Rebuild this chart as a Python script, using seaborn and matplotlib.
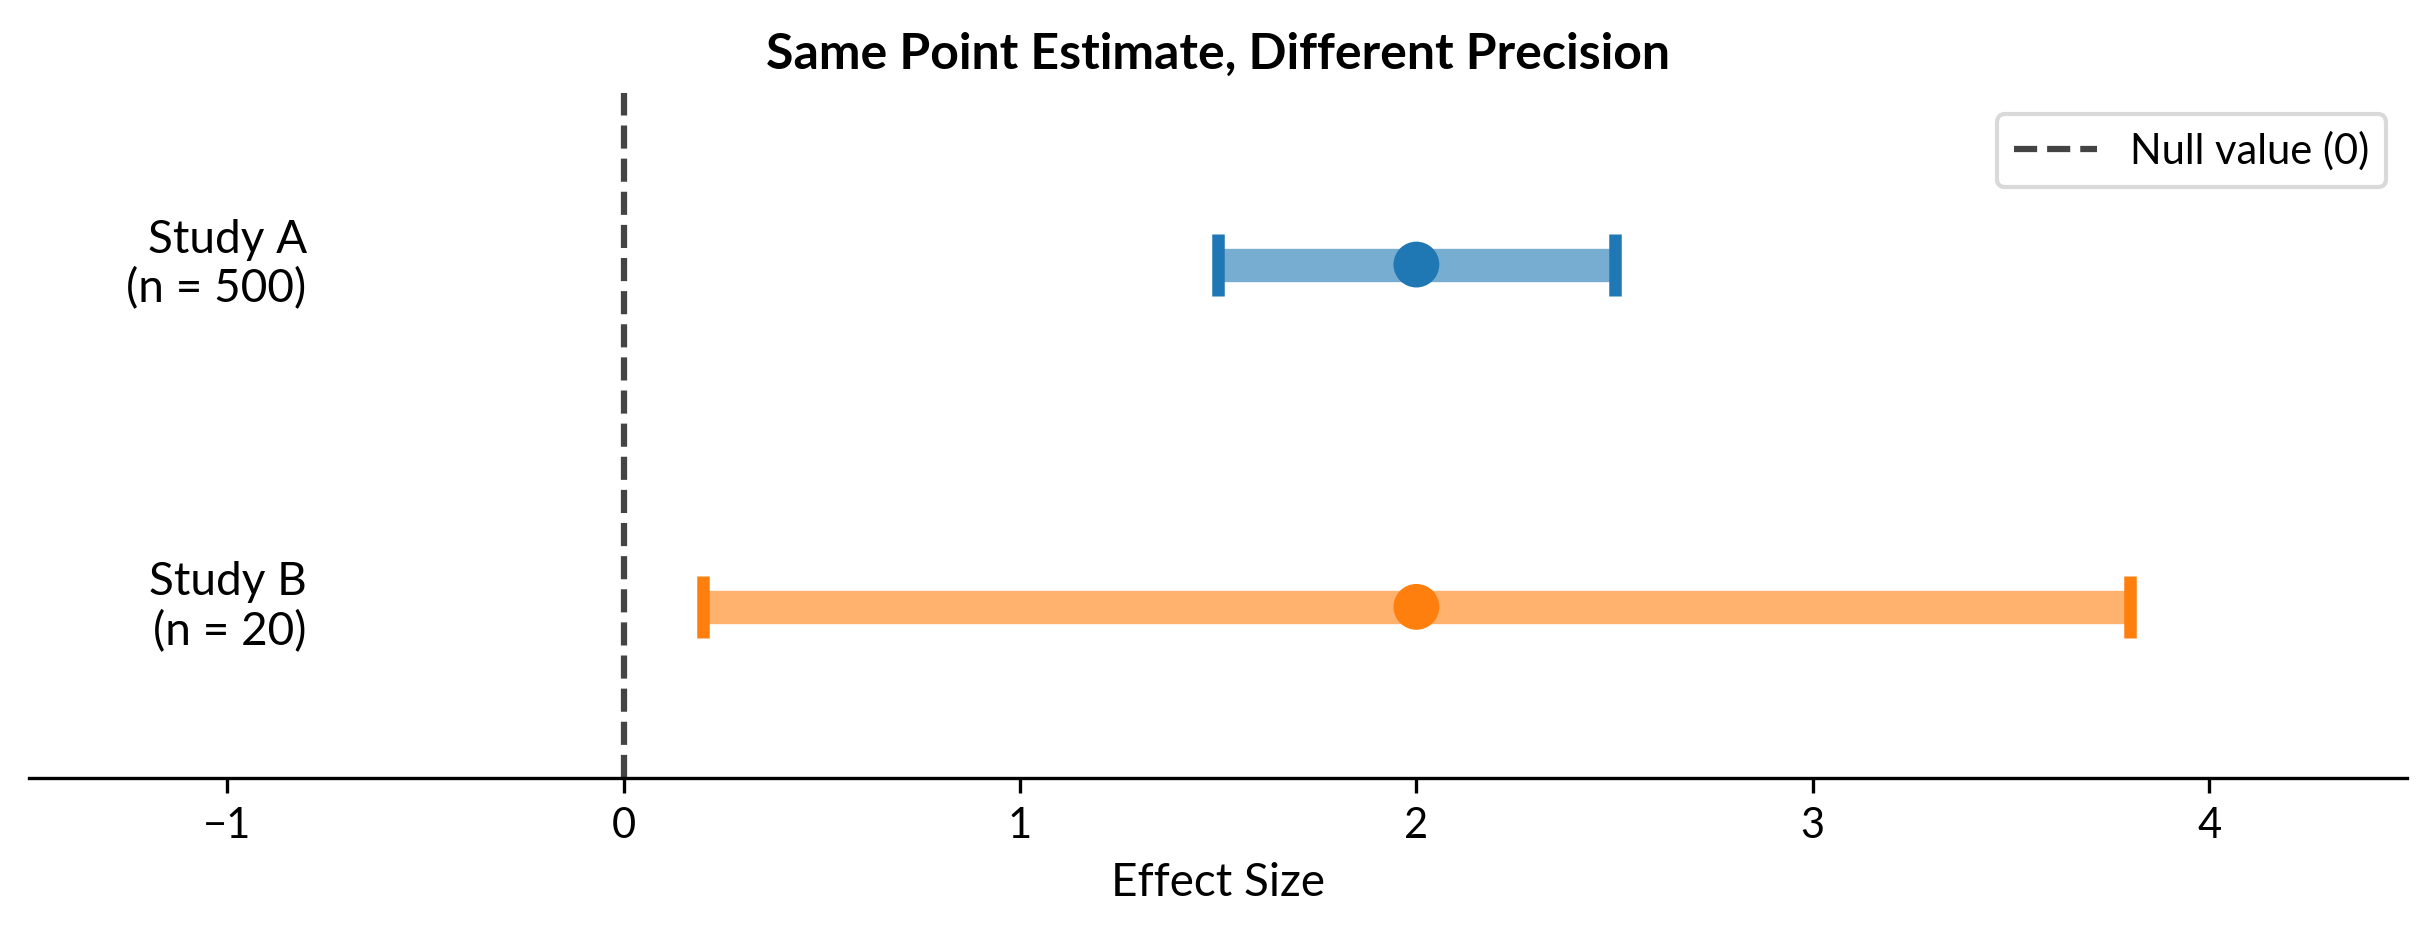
import matplotlib
matplotlib.use('Agg')
import matplotlib.pyplot as plt
import numpy as np
import pandas as pd
import seaborn as sns

# two studies, same estimate, different CI widths
studies = ['Study A\n(n = 500)', 'Study B\n(n = 20)']
estimates = [2.0, 2.0]
ci_low = [1.5, 0.2]
ci_high = [2.5, 3.8]
colors = ['#1f77b4', '#ff7f0e']
xticks = [-1, 0, 1, 2, 3, 4]

df = pd.DataFrame({'study': studies, 'estimate': estimates,
                   'lo': ci_low, 'hi': ci_high})
# Study A on top
df['ypos'] = np.arange(len(df))[::-1]

sns.set_style('white')
plt.rcParams['font.family'] = ['Lato', 'DejaVu Sans']
plt.rcParams['text.color'] = 'black'
plt.rcParams['axes.labelcolor'] = 'black'
plt.rcParams['xtick.color'] = 'black'

fig, ax = plt.subplots(figsize=(2434/300, 934/300), dpi=300)
fig.subplots_adjust(left=0.012, right=0.989, top=0.900, bottom=0.167)

ax.axvline(0, color='#444444', ls='--', lw=1.5, label='Null value (0)', zorder=1)

for i, rec in df.iterrows():
    ax.hlines(rec.ypos, rec.lo, rec.hi, color=colors[i], lw=8, alpha=0.6, zorder=2)
    ax.errorbar(rec.estimate, rec.ypos,
                xerr=[[rec.estimate-rec.lo], [rec.hi-rec.estimate]],
                fmt='none', elinewidth=0, capsize=7.5, capthick=3,
                ecolor=colors[i], zorder=2)
    ax.text(-0.8, rec.ypos, rec.study, ha='right', va='center', fontsize=11)

sns.scatterplot(data=df, x='estimate', y='ypos', hue='study', palette=colors,
                s=121, linewidth=0, legend=False, ax=ax, zorder=3)

ax.set_xlim(-1.5, 4.5)
ax.set_ylim(-0.5, 1.5)
ax.set_xticks(xticks)
ax.set_xticklabels([str(t).replace('-', '\u2212') for t in xticks], fontsize=10)
ax.set_yticks([])
ax.set_ylabel('')
ax.set_xlabel('Effect Size', fontsize=11)
ax.tick_params(axis='x', bottom=True, length=3.5, width=0.8, color='black')
for side in ['left', 'top', 'right']:
    ax.spines[side].set_visible(False)
ax.spines['bottom'].set_color('black')
ax.spines['bottom'].set_linewidth(0.8)

ax.set_title('Same Point Estimate, Different Precision', fontsize=12,
             fontweight='bold', color='black')
ax.legend(loc='upper right', fontsize=10, frameon=True, edgecolor='#d0d0d0')

fig.savefig('out.png', dpi=300)
